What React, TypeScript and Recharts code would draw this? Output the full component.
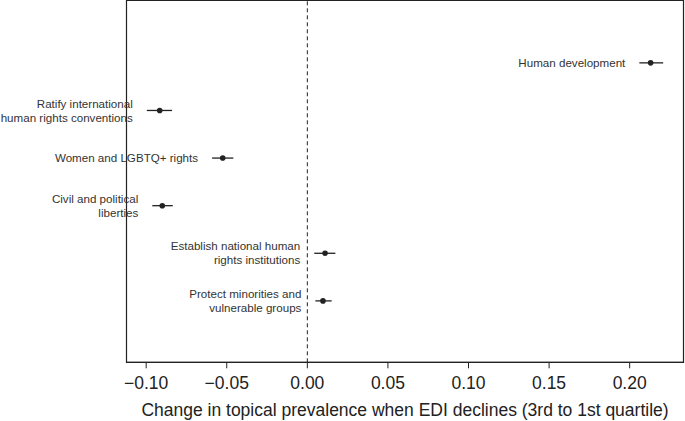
import React from 'react';
import { ScatterChart, Scatter, XAxis, YAxis, ErrorBar, ReferenceLine, ReferenceArea } from 'recharts';

const LABELS = [
  'Human development',
  'Ratify international\nhuman rights conventions',
  'Women and LGBTQ+ rights',
  'Civil and political\nliberties',
  'Establish national human\nrights institutions',
  'Protect minorities and\nvulnerable groups',
];
const ESTIMATE = [0.213, -0.0916, -0.0525, -0.09, 0.011, 0.0097];
const LOWER = [0.206, -0.0996, -0.0591, -0.0962, 0.0043, 0.005];
const UPPER = [0.2208, -0.0839, -0.0459, -0.0835, 0.0174, 0.0151];
const X_TICKS = [-0.1, -0.05, 0, 0.05, 0.1, 0.15, 0.2];

const X_DOMAIN: [number, number] = [-0.1122, 0.2334];
const Y_DOMAIN: [number, number] = [-0.31, 7.29];
const FONT = '"Liberation Sans", Arial, sans-serif';
const INK = '#222';

const points = ESTIMATE.map((v, i) => ({
  x: v,
  y: i + 1,
  err: [v - LOWER[i], UPPER[i] - v],
}));

const labelPoints = LOWER.map((lo, i) => ({ x: lo, y: i + 1, name: LABELS[i] }));

const formatTick = (v: number) => (v < 0 ? '\u2212' + Math.abs(v).toFixed(2) : v.toFixed(2));

const Dot = (props: any) => {
  const { cx, cy } = props;
  return <circle cx={cx} cy={cy} r={2.8} fill={INK} />;
};

const CategoryLabel = (props: any) => {
  const { cx, cy, payload } = props;
  const lines: string[] = payload.name.split('\n');
  const lh = 14;
  const top = cy - ((lines.length - 1) * lh) / 2;
  return (
    <text x={cx - 14} textAnchor="end" fontSize={11.6} fill="#333" fontFamily={FONT}>
      {lines.map((l, i) => (
        <tspan key={i} x={cx - 14} y={top + i * lh} dy="0.36em">
          {l}
        </tspan>
      ))}
    </text>
  );
};

const AxisTitle = (props: any) => {
  const { viewBox } = props;
  return (
    <text
      x={viewBox.x + viewBox.width / 2}
      y={viewBox.y + 53.4}
      textAnchor="middle"
      fontSize={17.5}
      fill={INK}
      fontFamily={FONT}
    >
      Change in topical prevalence when EDI declines (3rd to 1st quartile)
    </text>
  );
};

const App: React.FC = () => {
  return (
    <div style={{ position: 'absolute', left: 0, top: 0, background: '#fff' }}>
      <ScatterChart width={685} height={421} margin={{ top: 0.5, right: 1.5, bottom: 0, left: 126.5 }}>
        <XAxis
          type="number"
          dataKey="x"
          domain={X_DOMAIN}
          ticks={X_TICKS}
          tickFormatter={formatTick}
          height={58.7}
          tickSize={6}
          tickMargin={8}
          stroke={INK}
          axisLine={{ stroke: INK }}
          tickLine={{ stroke: INK }}
          tick={{ fontSize: 17.5, fill: INK, fontFamily: FONT }}
          label={<AxisTitle />}
        />
        <YAxis type="number" dataKey="y" domain={Y_DOMAIN} reversed hide />
        <ReferenceArea
          x1={X_DOMAIN[0]}
          x2={X_DOMAIN[1]}
          y1={Y_DOMAIN[0]}
          y2={Y_DOMAIN[1]}
          fill="none"
          fillOpacity={0}
          stroke={INK}
          strokeWidth={1.2}
        />
        <ReferenceLine x={0} stroke={INK} strokeDasharray="4 3" strokeWidth={1} />
        <Scatter data={points} shape={<Dot />} isAnimationActive={false}>
          <ErrorBar dataKey="err" direction="x" width={0} stroke={INK} strokeWidth={1.3} />
        </Scatter>
        <Scatter data={labelPoints} shape={<CategoryLabel />} isAnimationActive={false} />
      </ScatterChart>
    </div>
  );
};

export default App;
